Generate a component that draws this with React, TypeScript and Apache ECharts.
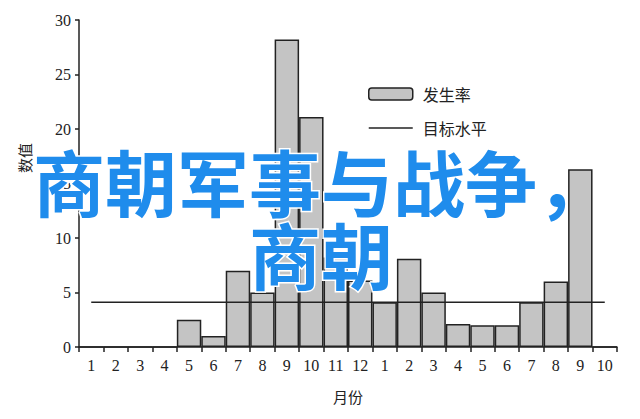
import React, { useEffect, useRef } from "react";
import * as echarts from "echarts";

const categories = ["1", "2", "3", "4", "5", "6", "7", "8", "9", "10", "11", "12", "1", "2", "3", "4", "5", "6", "7", "8", "9", "10"];
const incidence = [0, 0, 0, 0, 2.5, 1, 7, 5, 28.2, 21.1, 8.2, 6.1, 4.1, 8.1, 5, 2.1, 2, 2, 4.1, 6, 16.3, 0];
const targetLevel = [4.1, 4.1, 4.1, 4.1, 4.1, 4.1, 4.1, 4.1, 4.1, 4.1, 4.1, 4.1, 4.1, 4.1, 4.1, 4.1, 4.1, 4.1, 4.1, 4.1, 4.1, 4.1];
const yTicks = { min: 0, max: 30, interval: 5 };
const seriesNames = ["发生率", "目标水平"];
const axisNames = { x: "月份", y: "数值" };
const overlayLines = ["商朝军事与战争，", "商朝"];

const serif = "'Liberation Serif', 'DejaVu Serif', serif";
const cjk = "'Noto Sans CJK SC', sans-serif";

export default function App() {
  const ref = useRef<HTMLDivElement>(null);
  useEffect(() => {
    if (!ref.current) return;
    const chart = echarts.init(ref.current, undefined, { renderer: "svg" });
    const overlayStyle = {
      fontFamily: cjk,
      fontWeight: "bold",
      fontSize: 72,
      fill: "#1f8cec",
      stroke: "#ffffff",
      lineWidth: 3,
      textAlign: "center",
      textVerticalAlign: "middle",
    };
    chart.setOption({
      animation: false,
      backgroundColor: "#ffffff",
      grid: { left: 79, right: 23, top: 20, bottom: 72 },
      legend: {
        orient: "vertical",
        left: 368,
        top: 86,
        padding: 0,
        itemWidth: 44,
        itemHeight: 12,
        itemGap: 18,
        textStyle: { fontFamily: cjk, fontSize: 16, color: "#222", padding: [0, 0, 0, 5] },
        data: [
          { name: seriesNames[0], itemStyle: { color: "#c4c4c4", borderColor: "#222", borderWidth: 1.5 } },
          {
            name: seriesNames[1],
            icon: "path://M0,5.3 L44,5.3 L44,6.7 L0,6.7 Z",
            itemStyle: { color: "#222", borderWidth: 0 },
            lineStyle: { width: 0 },
          },
        ],
      },
      xAxis: {
        type: "category",
        data: categories,
        boundaryGap: true,
        name: axisNames.x,
        nameLocation: "middle",
        nameGap: 42,
        nameTextStyle: { fontFamily: cjk, fontSize: 15, color: "#222" },
        axisLine: { lineStyle: { color: "#222", width: 1.5 } },
        axisTick: { show: true, length: 5, alignWithLabel: false, lineStyle: { color: "#222", width: 1.5 } },
        axisLabel: { fontFamily: serif, fontSize: 16, color: "#222", margin: 10, interval: 0 },
        splitLine: { show: false },
      },
      yAxis: {
        type: "value",
        min: yTicks.min,
        max: yTicks.max,
        interval: yTicks.interval,
        axisLine: { show: true, lineStyle: { color: "#222", width: 1.5 } },
        axisTick: { show: true, length: 4, lineStyle: { color: "#222", width: 1.5 } },
        axisLabel: { fontFamily: serif, fontSize: 16, color: "#222", margin: 8 },
        splitLine: { show: false },
      },
      series: [
        {
          name: seriesNames[0],
          type: "bar",
          data: incidence,
          barCategoryGap: "0%",
          itemStyle: { color: "#c4c4c4", borderColor: "#222", borderWidth: 1.5 },
          z: 2,
        },
        {
          name: seriesNames[1],
          type: "line",
          data: targetLevel,
          symbol: "none",
          showSymbol: false,
          lineStyle: { color: "#222", width: 1.5 },
          itemStyle: { color: "#222" },
          z: 3,
        },
      ],
      graphic: [
        {
          type: "text",
          x: 24,
          y: 158,
          rotation: Math.PI / 2,
          style: {
            text: axisNames.y,
            fontFamily: cjk,
            fontSize: 15,
            fill: "#222",
            textAlign: "center",
            textVerticalAlign: "middle",
          },
        },
        { type: "text", x: 321, y: 179, z: 100, style: { ...overlayStyle, text: overlayLines[0] } },
        { type: "text", x: 321, y: 252, z: 100, style: { ...overlayStyle, text: overlayLines[1] } },
      ],
    });
    return () => chart.dispose();
  }, []);
  return (
    <div
      ref={ref}
      style={{ position: "fixed", left: 0, top: 0, width: 640, height: 419, background: "#fff" }}
    />
  );
}
